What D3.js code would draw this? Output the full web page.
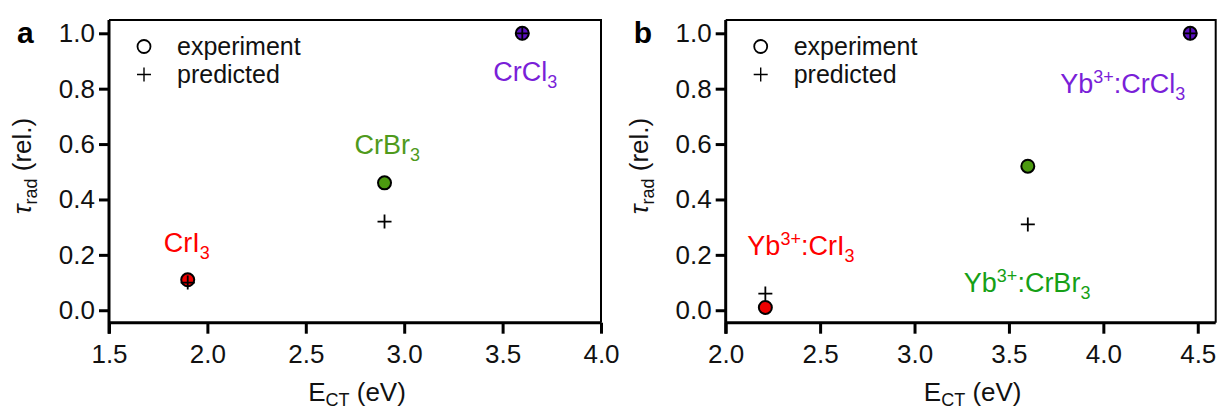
<!DOCTYPE html>
<html>
<head>
<meta charset="utf-8">
<script src="https://cdn.jsdelivr.net/npm/d3@7"></script>
<style>
  html, body { margin: 0; padding: 0; background: #fff; }
  svg { display: block; font-family: "Liberation Sans", Arial, sans-serif; }
</style>
</head>
<body>
<svg id="chart" width="1218" height="412"></svg>
<script>
// ---------- data ----------
const energyA = [1.9, 2.9, 3.6];
const expA = [0.11, 0.46, 1.0];
const predA = [0.10, 0.32, 1.0];
const namesA = ["CrI", "CrBr", "CrCl"];

const energyB = [2.21, 3.6, 4.46];
const expB = [0.01, 0.52, 1.0];
const predB = [0.06, 0.31, 1.0];
const namesB = ["CrI", "CrBr", "CrCl"];

const xTicksA = [1.5, 2.0, 2.5, 3.0, 3.5, 4.0];
const xTicksB = [2.0, 2.5, 3.0, 3.5, 4.0, 4.5];
const yTicks = [0.0, 0.2, 0.4, 0.6, 0.8, 1.0];
const legendLabels = ["experiment", "predicted"];

// ---------- styles ----------
const textColors = ["#ff0000", "#4f9a1c", "#7a1fd8"];
const textColorsB = ["#ff0000", "#16a016", "#7a1fd8"];
const fillColors = ["#ee0000", "#4c9a10", "#5a10bf"];

const svg = d3.select("#chart");

function drawPanel(opt) {
  const g = svg.append("g");
  const x = d3.scaleLinear().domain(opt.xDomain).range([opt.left, opt.right]);
  const y = d3.scaleLinear().domain([-0.045, 1.048]).range([322.7, 20]);

  // frame (top and right)
  g.append("path")
    .attr("d", `M${opt.left},20 H${opt.right} V322.7`)
    .attr("fill", "none").attr("stroke", "#000").attr("stroke-width", 2);

  // axes
  const xAxis = d3.axisBottom(x).tickValues(opt.xTicks).tickSize(11).tickPadding(11)
    .tickFormat(d3.format(".1f"));
  const yAxis = d3.axisLeft(y).tickValues(yTicks).tickSize(10).tickPadding(4)
    .tickFormat(d3.format(".1f"));

  const gx = g.append("g").attr("transform", "translate(0,322.7)").call(xAxis);
  const gy = g.append("g").attr("transform", `translate(${opt.left},0)`).call(yAxis);
  [gx, gy].forEach(a => {
    a.select(".domain").attr("stroke-width", 3);
    a.selectAll(".tick line").attr("stroke-width", 3);
    a.selectAll(".tick text").attr("font-size", 26).attr("fill", "#111")
      .attr("font-family", "Liberation Sans, Arial, sans-serif");
  });
  gx.select(".domain").attr("d", `M${opt.left},0H${opt.right}`);
  gy.select(".domain").attr("d", `M0,${y(1.048)}V${322.7 + 11}`);

  // axis labels
  const xl = g.append("text")
    .attr("x", (opt.left + opt.right) / 2 + 2).attr("y", 401)
    .attr("text-anchor", "middle").attr("font-size", 26).attr("fill", "#111");
  xl.append("tspan").text("E");
  xl.append("tspan").text("CT").attr("font-size", 18).attr("dy", 5);
  xl.append("tspan").text(" (eV)").attr("dy", -5);

  const yl = g.append("text")
    .attr("transform", `translate(${opt.left - 78},166) rotate(-90)`)
    .attr("text-anchor", "middle").attr("font-size", 26).attr("fill", "#111");
  yl.append("tspan").text("τ").attr("font-style", "italic");
  yl.append("tspan").text("rad").attr("font-size", 18).attr("dy", 6);
  yl.append("tspan").text(" (rel.)").attr("dy", -6);

  // panel letter
  g.append("text").attr("x", opt.left - 92).attr("y", 43)
    .attr("font-size", 30).attr("font-weight", "bold").attr("fill", "#000")
    .text(opt.letter);

  // legend
  const lx = opt.left + 35;
  g.append("circle").attr("cx", lx).attr("cy", 46.5).attr("r", 6.5)
    .attr("fill", "#fff").attr("stroke", "#000").attr("stroke-width", 1.8);
  g.append("path").attr("d", `M${lx - 7},74.5 H${lx + 7} M${lx},67.5 V81.5`)
    .attr("stroke", "#000").attr("stroke-width", 1.4);
  legendLabels.forEach((t, i) => {
    g.append("text").attr("x", lx + 33).attr("y", 54.5 + i * 28)
      .attr("font-size", 25).attr("fill", "#111").text(t);
  });

  // experiment markers
  g.selectAll("circle.exp").data(opt.energy).enter().append("circle")
    .attr("class", "exp")
    .attr("cx", d => x(d)).attr("cy", (d, i) => y(opt.exp[i]))
    .attr("r", 6.5).attr("fill", (d, i) => fillColors[i])
    .attr("stroke", "#000").attr("stroke-width", 2);

  // predicted markers
  g.selectAll("path.pred").data(opt.energy).enter().append("path")
    .attr("class", "pred")
    .attr("d", (d, i) => {
      const cx = x(d), cy = y(opt.pred[i]);
      return `M${cx - 7},${cy} H${cx + 7} M${cx},${cy - 7} V${cy + 7}`;
    })
    .attr("stroke", "#000").attr("stroke-width", 1.8);

  // compound labels
  opt.names.forEach((n, i) => {
    const t = g.append("text")
      .attr("x", x(opt.energy[i]) + opt.labelOff[i][0])
      .attr("y", y(opt.exp[i]) + opt.labelOff[i][1])
      .attr("font-size", 27).attr("fill", opt.colors[i]);
    if (opt.prefix) {
      t.append("tspan").text("Yb");
      t.append("tspan").text("3+").attr("font-size", 18).attr("dy", -10);
      t.append("tspan").text(":" + n).attr("dy", 10);
    } else {
      t.append("tspan").text(n);
    }
    t.append("tspan").text("3").attr("font-size", 18).attr("dy", 7);
  });
}

drawPanel({
  letter: "a", left: 109, right: 601, xDomain: [1.5, 4.0], xTicks: xTicksA,
  energy: energyA, exp: expA, pred: predA, names: namesA, prefix: false,
  colors: textColors,
  labelOff: [[-24, -28], [-30, -29], [-29, 48]]
});
drawPanel({
  letter: "b", left: 725.7, right: 1215.7, xDomain: [2.0, 4.595], xTicks: xTicksB,
  energy: energyB, exp: expB, pred: predB, names: namesB, prefix: true,
  colors: textColorsB,
  labelOff: [[-18, -52], [-64, 126], [-130, 60]]
});
</script>
</body>
</html>
